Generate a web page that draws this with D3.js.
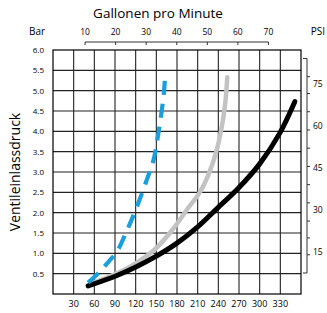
<!DOCTYPE html>
<html>
<head>
<meta charset="utf-8">
<script src="https://cdn.jsdelivr.net/npm/d3@7"></script>
<style>
  body { margin: 0; background: #fff; }
  text { font-family: "Open Sans", sans-serif; fill: #000; }
</style>
</head>
<body>
<div id="chart"></div>
<script>
// flow in l/min on the bottom axis, pressure in bar on the left axis
const lpmTicks = [30, 60, 90, 120, 150, 180, 210, 240, 270, 300, 330];
const barTicks = [0.5, 1.0, 1.5, 2.0, 2.5, 3.0, 3.5, 4.0, 4.5, 5.0, 5.5, 6.0];
const gpmTicks = [10, 20, 30, 40, 50, 60, 70];
const psiLabels = [15, 30, 45, 60, 75];
const psiMinor = [7.5, 14, 20, 26, 32.5, 39, 45.5, 52, 58.5, 65, 71.5, 77.5, 84];

const blackLpm = [51, 92, 121, 150, 180, 210, 238, 269, 300, 329, 351];
const blackBar = [0.2, 0.45, 0.67, 0.93, 1.25, 1.65, 2.1, 2.6, 3.2, 3.95, 4.73];
const grayLpm = [55, 92, 120, 148, 172, 196, 213, 226, 237, 245, 250, 253];
const grayBar = [0.25, 0.5, 0.75, 1.1, 1.55, 2.11, 2.5, 2.95, 3.5, 4.11, 4.69, 5.33];
const blueLpm = [51, 68, 80, 93, 107, 121, 136, 146, 152, 157, 161, 163];
const blueBar = [0.28, 0.55, 0.78, 1.05, 1.55, 2.11, 2.8, 3.3, 3.85, 4.4, 4.95, 5.43];

const W = 327, H = 313;
const pLeft = 53, pRight = 301, pTop = 50, pBottom = 294;

const svg = d3.select("#chart").append("svg")
  .attr("width", W).attr("height", H);

const x = d3.scaleLinear().domain([0, 360]).range([pLeft, pRight]);
const y = d3.scaleLinear().domain([0, 6]).range([pBottom, pTop]);
const xg = d3.scaleLinear().domain([0, 80]).range([54.5, 299]);
const yPsi = d3.scaleLinear().domain([0, 6 * 14.5038]).range([pBottom, pTop]);

// grid
const grid = svg.append("g").attr("stroke", "#222").attr("stroke-width", 1.1);
grid.selectAll("line.v").data(lpmTicks).join("line")
  .attr("x1", d => x(d)).attr("x2", d => x(d))
  .attr("y1", pTop).attr("y2", pBottom);
grid.selectAll("line.h").data(barTicks.filter(d => d < 6)).join("line")
  .attr("x1", pLeft).attr("x2", pRight)
  .attr("y1", d => y(d)).attr("y2", d => y(d));
svg.append("rect")
  .attr("x", pLeft).attr("y", pTop)
  .attr("width", pRight - pLeft).attr("height", pBottom - pTop)
  .attr("fill", "none").attr("stroke", "#000").attr("stroke-width", 1.2);

// bottom labels
svg.append("g").selectAll("text").data(lpmTicks).join("text")
  .attr("x", d => x(d)).attr("y", 307)
  .attr("text-anchor", "middle").attr("font-size", 9)
  .text(d => d);

// left labels
svg.append("g").selectAll("text").data(barTicks).join("text")
  .attr("x", 44).attr("y", d => y(d) + 3)
  .attr("text-anchor", "end").attr("font-size", 8)
  .text(d => d.toFixed(1));

// top axis (gpm)
const topAxis = svg.append("g").attr("transform", "translate(0,42)");
topAxis.append("line")
  .attr("x1", xg(gpmTicks[0])).attr("x2", xg(gpmTicks[gpmTicks.length - 1]))
  .attr("stroke", "#333");
topAxis.selectAll("line.t").data(gpmTicks).join("line")
  .attr("x1", d => xg(d)).attr("x2", d => xg(d))
  .attr("y1", 0).attr("y2", 3).attr("stroke", "#333");
topAxis.selectAll("text").data(gpmTicks).join("text")
  .attr("x", d => xg(d)).attr("y", -7)
  .attr("text-anchor", "middle").attr("font-size", 8.5)
  .text(d => d);

// right axis (psi)
const psiX = 307;
const ra = svg.append("g").attr("stroke", "#333");
ra.append("line").attr("x1", psiX).attr("x2", psiX)
  .attr("y1", yPsi(84)).attr("y2", yPsi(7.5));
ra.selectAll("line.e").data([7.5, 84]).join("line")
  .attr("x1", psiX - 4).attr("x2", psiX)
  .attr("y1", d => yPsi(d)).attr("y2", d => yPsi(d));
ra.selectAll("line.m").data(psiMinor.slice(1, -1)).join("line")
  .attr("x1", psiX).attr("x2", psiX + 3)
  .attr("y1", d => yPsi(d)).attr("y2", d => yPsi(d));
svg.append("g").selectAll("text").data(psiLabels).join("text")
  .attr("x", 313).attr("y", d => yPsi(d) + 3)
  .attr("font-size", 8.5)
  .text(d => d);

// axis titles
svg.append("text").attr("x", 158).attr("y", 18)
  .attr("text-anchor", "middle").attr("font-size", 13.5)
  .text("Gallonen pro Minute");
svg.append("text").attr("x", 37).attr("y", 35)
  .attr("text-anchor", "middle").attr("font-size", 10)
  .text("Bar");
svg.append("text").attr("x", 318).attr("y", 35)
  .attr("text-anchor", "middle").attr("font-size", 10)
  .text("PSI");
svg.append("text")
  .attr("transform", "translate(20,172) rotate(-90)")
  .attr("text-anchor", "middle").attr("font-size", 14)
  .text("Ventileinlassdruck");

// curves
const line = d3.line().x(d => x(d[0])).y(d => y(d[1])).curve(d3.curveCatmullRom.alpha(0.5));
const zip = (a, b) => a.map((v, i) => [v, b[i]]);

svg.append("path").datum(zip(grayLpm, grayBar))
  .attr("d", line).attr("fill", "none")
  .attr("stroke", "#c3c3c3").attr("stroke-width", 4.5)
  .attr("stroke-linecap", "round");
svg.append("path").datum(zip(blackLpm, blackBar))
  .attr("d", line).attr("fill", "none")
  .attr("stroke", "#000").attr("stroke-width", 5)
  .attr("stroke-linecap", "round");
svg.append("path").datum(zip(blueLpm, blueBar))
  .attr("d", line).attr("fill", "none")
  .attr("stroke", "#1a9fdc").attr("stroke-width", 4.2)
  .attr("stroke-dasharray", "14,9");
</script>
</body>
</html>
